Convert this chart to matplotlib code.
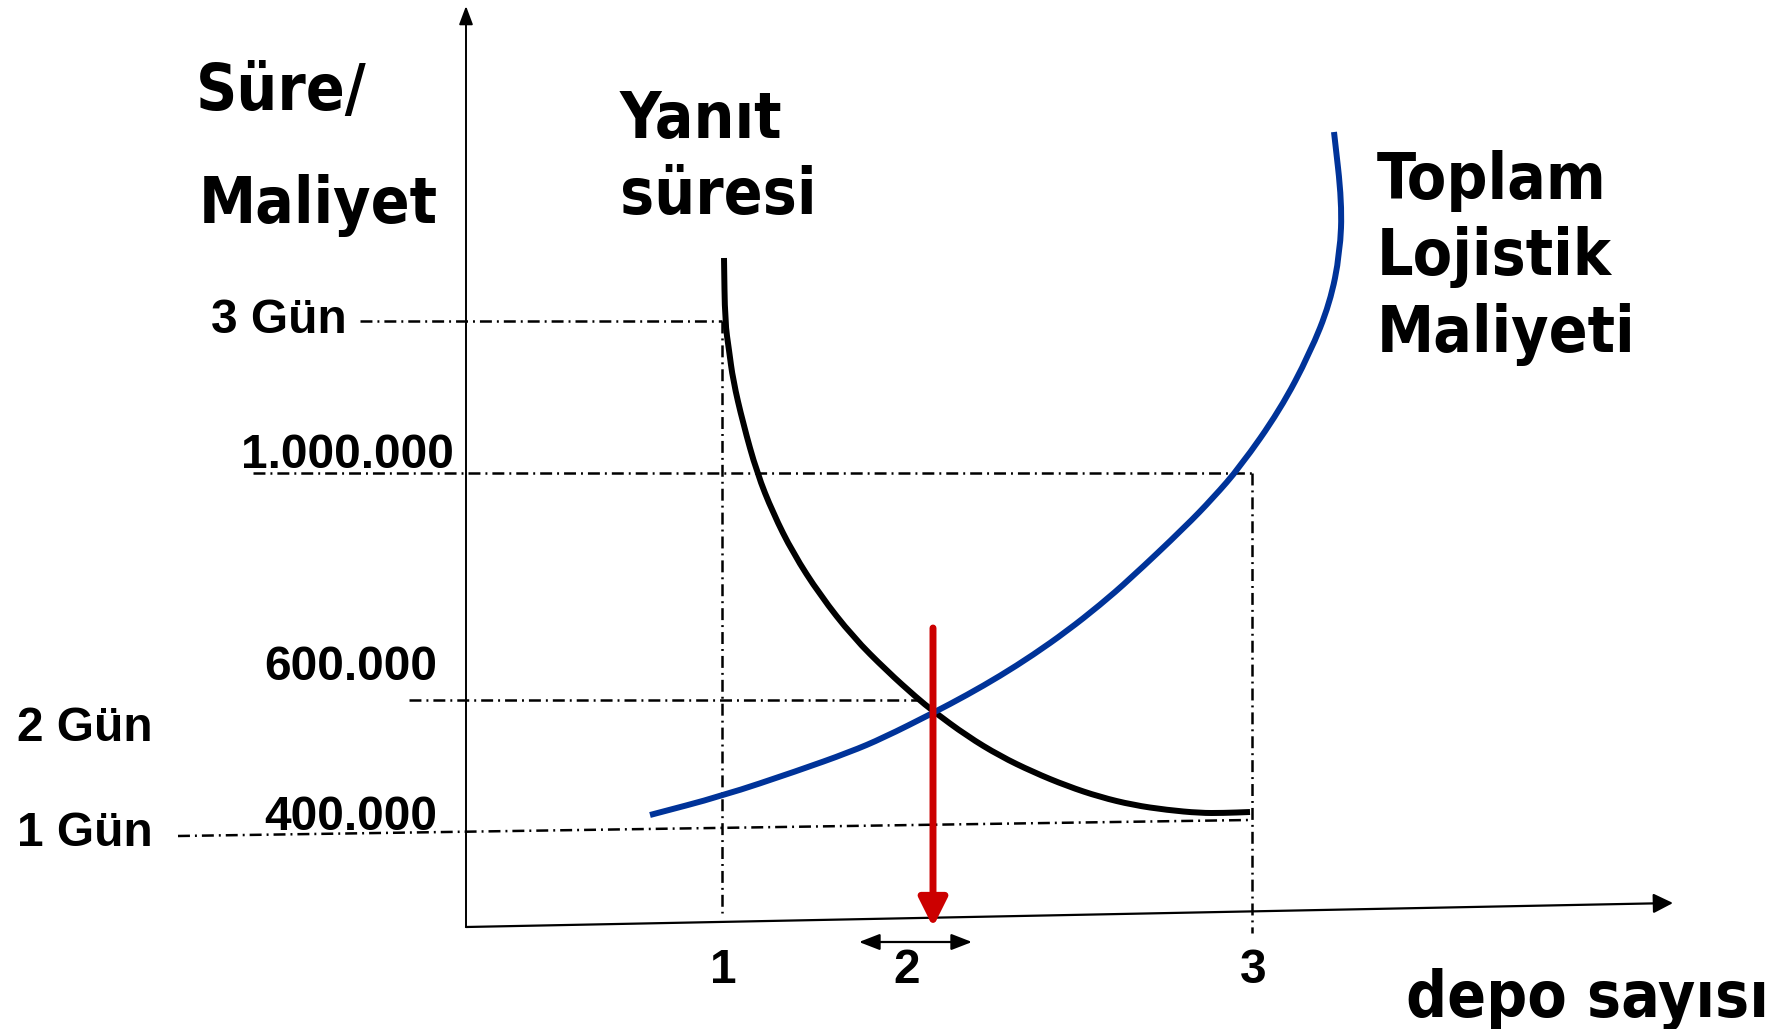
import matplotlib
matplotlib.use("Agg")
from matplotlib import pyplot as plt
from matplotlib.path import Path
from matplotlib.patches import PathPatch

# everything is laid out in the slide's own pixel frame (x right, y down)
W, H = 1768, 1029

# Yanıt süresi curve (black)
resp_x = [724, 725, 729, 733, 743, 757, 773, 793, 820, 853, 887, 917, 933, 967,
          1000, 1033, 1067, 1100, 1133, 1167, 1200, 1223, 1250]
resp_y = [258, 322, 350, 380, 423, 473, 513, 553, 595, 637, 671, 698, 711, 736,
          756, 772, 786, 797, 805, 810, 813, 813, 812]

# Toplam Lojistik Maliyeti curve (blue)
cost_x = [650, 722, 797, 850, 883, 933, 967, 1000, 1033, 1067, 1100, 1130, 1185,
          1213, 1240, 1280, 1310, 1330, 1340, 1342, 1334]
cost_y = [815, 796, 771, 752, 738, 713, 695, 676, 655, 631, 605, 579, 527,
          498, 467, 410, 353, 303, 253, 203, 132]

# guide lines (dash-dot): start and end points
guide_x0 = [360, 253, 409, 178, 722, 1252]
guide_y0 = [321, 473, 700, 836, 321, 473]
guide_x1 = [722, 1252, 922, 1249, 722, 1252]
guide_y1 = [321, 473, 700, 820, 913, 933]

# y-side labels
ylab_text = ["3 Gün", "1.000.000", "600.000", "400.000", "2 Gün", "1 Gün"]
ylab_x = [347, 454, 437, 437, 17, 17]
ylab_y = [333, 468, 680, 830, 741, 846]
ylab_ha = ["right", "right", "right", "right", "left", "left"]

# x-side labels
xlab_text = ["1", "2", "3"]
xlab_x = [723, 907, 1253]
xlab_y = 983

# titles
title_text = ["Süre/", "Maliyet", "Yanıt", "süresi", "Toplam", "Lojistik", "Maliyeti", "depo sayısı"]
title_x = [196, 199, 620, 620, 1377, 1377, 1377, 1406]
title_y = [110, 223, 138, 214, 199, 275, 352, 1017]

# axes and arrows
origin = (466, 927)
yaxis_tip = (466, 6)
xaxis_tip = (1673, 903)
red_top, red_tip = (933, 628), (933, 927)
span_left, span_right = (859, 942), (972, 942)


def smooth_path(xs, ys):
    # quadratic bezier through the midpoints, read points act as control points
    pts = list(zip(xs, ys))
    verts = [pts[0]]
    codes = [Path.MOVETO]
    mid = lambda a, b: ((a[0] + b[0]) / 2, (a[1] + b[1]) / 2)
    verts.append(mid(pts[0], pts[1]))
    codes.append(Path.LINETO)
    for i in range(1, len(pts) - 1):
        verts += [pts[i], mid(pts[i], pts[i + 1])]
        codes += [Path.CURVE3, Path.CURVE3]
    verts.append(pts[-1])
    codes.append(Path.LINETO)
    return Path(verts, codes)


plt.rcParams['lines.scale_dashes'] = False

fig = plt.figure(figsize=(W / 100, H / 100), dpi=100)
ax = fig.add_axes([0, 0, 1, 1])
ax.set_xlim(0, W)
ax.set_ylim(H, 0)
ax.axis('off')

dashdot = (0, (8.6, 3.6, 1.4, 3.6))
for x0, y0, x1, y1 in zip(guide_x0, guide_y0, guide_x1, guide_y1):
    ax.plot([x0, x1], [y0, y1], color='black', lw=1.8, linestyle=dashdot,
            dash_capstyle='butt', zorder=2)

# axes with arrow heads
ax.annotate('', xy=yaxis_tip, xytext=origin,
            arrowprops=dict(arrowstyle='-|>,head_length=0.8,head_width=0.3', color='black',
                            lw=1.4, mutation_scale=14, shrinkA=0, shrinkB=0), zorder=3)
ax.annotate('', xy=xaxis_tip, xytext=origin,
            arrowprops=dict(arrowstyle='-|>,head_length=0.8,head_width=0.4', color='black',
                            lw=1.6, mutation_scale=15, shrinkA=0, shrinkB=0), zorder=3)

ax.add_patch(PathPatch(smooth_path(resp_x, resp_y), fill=False, edgecolor='black',
                       lw=4.3, capstyle='butt', joinstyle='round', zorder=4))
ax.add_patch(PathPatch(smooth_path(cost_x, cost_y), fill=False, edgecolor='#003399',
                       lw=4.3, capstyle='butt', joinstyle='round', zorder=4))

# red arrow down to the optimum
ax.annotate('', xy=red_tip, xytext=red_top,
            arrowprops=dict(arrowstyle='-|>,head_length=0.86,head_width=0.43', color='#CC0000',
                            lw=5, mutation_scale=20, shrinkA=0, shrinkB=0), zorder=5)

# double arrow under "2"
ax.annotate('', xy=span_right, xytext=span_left,
            arrowprops=dict(arrowstyle='<|-|>,head_length=0.9,head_width=0.35', color='black',
                            lw=1.6, mutation_scale=14, shrinkA=0, shrinkB=0), zorder=5)

for t, x, y, ha in zip(ylab_text, ylab_x, ylab_y, ylab_ha):
    ax.text(x, y, t, ha=ha, va='baseline', fontsize=34.5, fontweight='bold',
            family='Liberation Sans', color='black', zorder=6)

for t, x in zip(xlab_text, xlab_x):
    ax.text(x, xlab_y, t, ha='center', va='baseline', fontsize=34.5, fontweight='bold',
            family='Liberation Sans', color='black', zorder=6)

for t, x, y in zip(title_text, title_x, title_y):
    ax.text(x, y, t, ha='left', va='baseline', fontsize=46, fontweight='bold',
            family='DejaVu Sans', fontstretch='condensed', color='black', zorder=6)

fig.savefig('out.png', dpi=100)
